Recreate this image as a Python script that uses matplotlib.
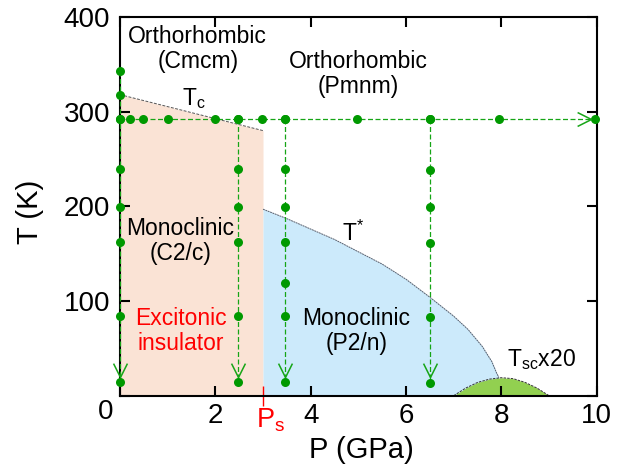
import matplotlib
matplotlib.use('Agg')
import matplotlib.pyplot as plt
from matplotlib.path import Path

plt.rcParams['font.family'] = ['Liberation Sans', 'DejaVu Sans']
plt.rcParams['mathtext.fontset'] = 'custom'
plt.rcParams['mathtext.rm'] = 'Liberation Sans'
plt.rcParams['mathtext.it'] = 'Liberation Sans:italic'
plt.rcParams['mathtext.bf'] = 'Liberation Sans:bold'

# ---------------- data ----------------
# Tc boundary (orthorhombic Cmcm -> monoclinic C2/c)
Tc_P = [0.0, 3.0]
Tc_T = [318, 280]
# T* boundary (orthorhombic Pmnm -> monoclinic P2/n)
Tstar_P = [3.0, 3.5, 4.0, 4.5, 5.0, 5.5, 6.0, 6.5, 7.0, 7.3, 7.6, 7.8, 7.9, 7.95]
Tstar_T = [197, 187, 176, 165, 152, 139, 123, 104, 84, 70, 52, 36, 24, 19]
# superconducting dome (x20)
Tsc_P = [7.0, 7.25, 7.5, 7.75, 8.0, 8.25, 8.5, 8.75, 9.0]
Tsc_T = [0, 8, 14, 17.5, 19, 18, 14, 8, 0]
Ps = 3.0

# measurement paths (green dots)
vertical_P = [0.0, 2.48, 3.46, 6.50]
vertical_T = [
    [343, 318, 292, 239, 199, 162, 84, 14],
    [292, 239, 199, 162, 84, 14],
    [292, 239, 199, 162, 119, 84, 14],
    [292, 238, 199, 161, 83, 13],
]
iso_T = 292
iso_P = [0, 0.21, 0.49, 1.01, 1.99, 2.48, 2.97, 3.46, 4.97, 6.50, 7.95, 9.97]
arrow_tip_T = 20
arrow_tip_P = 9.89

x_ticks = [0, 2, 4, 6, 8, 10]
x_ticklabels = ['', '2', '4', '6', '8', '10']
y_ticks = [0, 100, 200, 300, 400]
y_ticklabels = ['', '100', '200', '300', '400']

# ---------------- style ----------------
c_orange = '#fae3d5'
c_blue = '#cceafb'
c_dome = '#92d050'
c_line = '#16a516'
c_dot = '#009900'

fig = plt.figure(figsize=(6.21, 4.68), dpi=100)
ax = fig.add_axes([120/621, 1-395.7/468, 476.7/621, 378.7/468])
ax.set_xlim(0, 10)
ax.set_ylim(0, 400)

# phase regions
ax.fill_between(Tc_P, 0, Tc_T, color=c_orange, lw=0, zorder=0)
ax.fill_between(Tstar_P, 0, Tstar_T, color=c_blue, lw=0, zorder=0)
ax.fill_between(Tsc_P, 0, Tsc_T, color=c_dome, lw=0, zorder=0.5)
ax.plot(Tc_P, Tc_T, color='#555555', lw=0.7, dashes=(3, 1.5), zorder=1)
ax.plot(Tstar_P, Tstar_T, color='#556070', lw=0.7, dashes=(2, 0.6), zorder=1)
ax.plot(Tsc_P, Tsc_T, color='#333333', lw=0.7, dashes=(2.5, 1.2), zorder=1)

# measurement paths
chev_down = Path([(-0.5, 1), (0, 0), (0.5, 1)], [Path.MOVETO, Path.LINETO, Path.LINETO])
chev_right = Path([(-1, 0.5), (0, 0), (-1, -0.5)], [Path.MOVETO, Path.LINETO, Path.LINETO])

ax.plot(iso_P, [iso_T]*len(iso_P), color=c_line, lw=0.9, dashes=(4, 2),
        zorder=3, clip_on=False)
ax.plot(iso_P, [iso_T]*len(iso_P), 'o', color=c_dot, ms=6.5, mec='none',
        zorder=4, clip_on=False)
ax.plot([arrow_tip_P], [iso_T], marker=chev_right, ms=20, mfc='none', mec=c_line,
        mew=1.1, ls='none', zorder=4, clip_on=False)
for P, Ts in zip(vertical_P, vertical_T):
    ax.plot([P]*len(Ts), Ts, color=c_line, lw=0.9, dashes=(4, 2), zorder=3, clip_on=False)
    ax.plot([P]*len(Ts), Ts, 'o', color=c_dot, ms=6.5, mec='none', zorder=4, clip_on=False)
    ax.plot([P], [arrow_tip_T], marker=chev_down, ms=20, mfc='none', mec=c_line,
            mew=1.1, ls='none', zorder=4, clip_on=False)

# axes styling
for s in ax.spines.values():
    s.set_linewidth(1.5)
ax.set_xticks(x_ticks, labels=x_ticklabels)
ax.set_yticks(y_ticks, labels=y_ticklabels)
ax.tick_params(which='major', direction='in', length=7.5, width=1.5, top=True, right=True,
               labelsize=20)
ax.tick_params(axis='x', which='major', pad=5)
ax.tick_params(axis='y', which='major', pad=7)
ax.set_xticks([Ps], labels=[''], minor=True)
ax.tick_params(axis='x', which='minor', direction='inout', length=15, width=1,
               colors='red', top=False)
ax.set_yticks([], minor=True)
ax.text(2.86, -34, r'P$_\mathrm{s}$', fontsize=19.5, color='red', ha='left', va='baseline')

ax.text(-0.31, -17, '0', fontsize=20, ha='center', va='center')
ax.text(-0.189, 0.486, 'T (K)', transform=ax.transAxes, rotation=90, fontsize=21,
        ha='center', va='center')
ax.text(0.506, -0.143, 'P (GPa)', transform=ax.transAxes, fontsize=21,
        ha='center', va='center')

# region labels
fs = 16.5
ax.text(1.63, 366, 'Orthorhombic\n(Cmcm)', fontsize=fs, ha='center', va='center', linespacing=1.1)
ax.text(4.99, 340, 'Orthorhombic\n(Pmnm)', fontsize=fs, ha='center', va='center', linespacing=1.1)
ax.text(1.26, 163, 'Monoclinic\n(C2/c)', fontsize=fs, ha='center', va='center', linespacing=1.1)
ax.text(1.27, 68, 'Excitonic\ninsulator', fontsize=fs, ha='center', va='center',
        color='red', linespacing=1.1)
ax.text(4.96, 68, 'Monoclinic\n(P2/n)', fontsize=fs, ha='center', va='center', linespacing=1.1)
ax.text(1.30, 307, r'T$_\mathrm{c}$', fontsize=fs, ha='left', va='baseline')
ax.text(4.65, 164, r'T$^{*}$', fontsize=fs, ha='left', va='baseline')
ax.text(8.12, 31, r'T$_\mathrm{sc}$x20', fontsize=fs, ha='left', va='baseline')

fig.savefig('out.png', dpi=100)
